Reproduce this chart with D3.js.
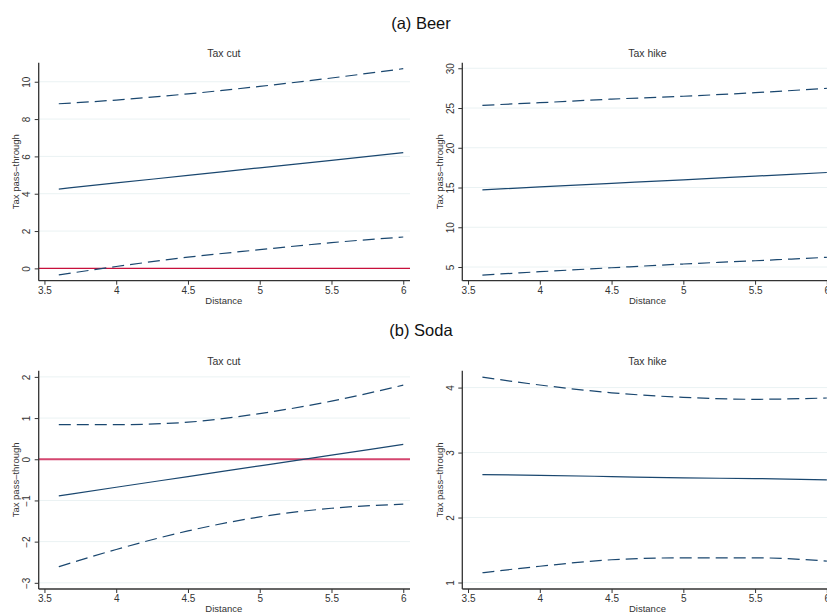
<!DOCTYPE html>
<html>
<head>
<meta charset="utf-8">
<script src="https://cdn.jsdelivr.net/npm/d3@7"></script>
<style>
  body { margin: 0; background: #fff; }
  text { font-family: "Liberation Sans", Arial, sans-serif; }
</style>
</head>
<body>
<div id="chart"></div>
<script>
// distance grid the margins were evaluated on
var distance = [3.6, 4, 4.5, 5, 5.5, 6];
var xTicks = [3.5, 4, 4.5, 5, 5.5, 6];

// (a) Beer
var beerCutUpper = [8.82, 9.02, 9.35, 9.75, 10.2, 10.7];
var beerCutMid   = [4.25, 4.58, 4.98, 5.39, 5.79, 6.2];
var beerCutLower = [-0.35, 0.1, 0.6, 1.0, 1.38, 1.68];
var beerCutTicks = [0, 2, 4, 6, 8, 10];

var beerHikeUpper = [25.34, 25.67, 26.12, 26.48, 26.93, 27.48];
var beerHikeMid   = [14.71, 15.07, 15.52, 15.97, 16.43, 16.89];
var beerHikeLower = [3.99, 4.41, 4.91, 5.38, 5.79, 6.22];
var beerHikeTicks = [5, 10, 15, 20, 25, 30];

// (b) Soda
var sodaCutUpper = [0.84, 0.84, 0.9, 1.11, 1.41, 1.8];
var sodaCutMid   = [-0.89, -0.68, -0.42, -0.16, 0.1, 0.36];
var sodaCutLower = [-2.61, -2.19, -1.74, -1.4, -1.19, -1.09];
var sodaCutTicks = [-3, -2, -1, 0, 1, 2];

var sodaHikeUpper = [4.16, 4.04, 3.92, 3.85, 3.82, 3.84];
var sodaHikeMid   = [2.66, 2.65, 2.63, 2.61, 2.6, 2.58];
var sodaHikeLower = [1.15, 1.25, 1.35, 1.38, 1.38, 1.33];
var sodaHikeTicks = [1, 2, 3, 4];

var navy = "#1a476f";

var svg = d3.select("#chart").append("svg")
  .attr("width", 827)
  .attr("height", 613);

// group titles
svg.append("text").attr("x", 421).attr("y", 29)
  .attr("text-anchor", "middle").style("font-size", "16.5px").attr("fill", "#111")
  .text("(a) Beer");
svg.append("text").attr("x", 421).attr("y", 336)
  .attr("text-anchor", "middle").style("font-size", "16.5px").attr("fill", "#111")
  .text("(b) Soda");

function drawPanel(opt) {
  var left = opt.left, top = opt.top, bottom = opt.bottom, right = left + 371.3;

  var x = d3.scaleLinear().domain([3.46, 6.047]).range([left, right]);
  var y = d3.scaleLinear().domain(opt.yDomain).range([bottom, top]);

  var g = svg.append("g");

  // gridlines
  g.selectAll(".grid")
    .data(opt.yTicks)
    .enter()
    .append("line")
    .attr("x1", left).attr("x2", right)
    .attr("y1", d => y(d)).attr("y2", d => y(d))
    .attr("stroke", "#eaf2f3")
    .attr("stroke-width", 1);

  // zero line
  if (opt.zero) {
    g.append("line")
      .attr("x1", left).attr("x2", right)
      .attr("y1", y(0)).attr("y2", y(0))
      .attr("stroke", opt.zeroColor)
      .attr("stroke-width", opt.zeroWidth);
  }

  var line = d3.line()
    .x((d, i) => x(distance[i]))
    .y(d => y(d))
    .curve(d3.curveMonotoneX);

  [opt.upper, opt.lower].forEach(function (s) {
    g.append("path").datum(s)
      .attr("d", line)
      .attr("fill", "none")
      .attr("stroke", navy)
      .attr("stroke-width", 1.2)
      .attr("stroke-dasharray", "12,6");
  });
  g.append("path").datum(opt.mid)
    .attr("d", line)
    .attr("fill", "none")
    .attr("stroke", navy)
    .attr("stroke-width", 1.2);

  // x axis
  var xAxis = g.append("g")
    .attr("transform", `translate(0, ${bottom})`)
    .call(d3.axisBottom(x).tickValues(xTicks).tickFormat(d3.format("")).tickSize(4).tickPadding(3));
  xAxis.select(".domain").remove();
  xAxis.selectAll("line").attr("stroke", "#333");
  xAxis.selectAll("text").style("font-size", "10px").attr("fill", "#333")
    .attr("dy", null).attr("y", 13);

  // y axis
  var yAxis = g.append("g")
    .attr("transform", `translate(${left}, 0)`)
    .call(d3.axisLeft(y).tickValues(opt.yTicks).tickSize(4)
      .tickFormat(d => d < 0 ? "\u2212" + Math.abs(d) : d));
  yAxis.select(".domain").remove();
  yAxis.selectAll("line").attr("stroke", "#333");
  yAxis.selectAll("text")
    .style("font-size", "10px").attr("fill", "#333")
    .attr("x", null).attr("dy", null)
    .attr("text-anchor", "middle")
    .attr("transform", "translate(-8.5,0) rotate(-90)");

  // axis lines
  g.append("line").attr("x1", left).attr("x2", right)
    .attr("y1", bottom).attr("y2", bottom)
    .attr("stroke", "#333").attr("stroke-width", 1.3);
  g.append("line").attr("x1", left).attr("x2", left)
    .attr("y1", top).attr("y2", bottom)
    .attr("stroke", "#333").attr("stroke-width", 1.3);

  // labels
  g.append("text")
    .attr("x", (x(3.5) + x(6)) / 2).attr("y", top - 5.5)
    .attr("text-anchor", "middle").style("font-size", "10.5px").attr("fill", "#333")
    .text(opt.title);
  g.append("text")
    .attr("x", (x(3.5) + x(6)) / 2).attr("y", bottom + 22.8)
    .attr("text-anchor", "middle").style("font-size", "9.5px").attr("fill", "#333")
    .text("Distance");
  g.append("text")
    .attr("transform", `translate(${left - 19.8}, ${(top + bottom) / 2}) rotate(-90)`)
    .attr("text-anchor", "middle").style("font-size", "9.5px").attr("fill", "#333")
    .text("Tax pass\u2013through");
}

drawPanel({ left: 38.7, top: 62.7, bottom: 280.7, yDomain: [-0.66, 11.02], yTicks: beerCutTicks,
  upper: beerCutUpper, mid: beerCutMid, lower: beerCutLower, title: "Tax cut",
  zero: true, zeroColor: "#c8103c", zeroWidth: 1.2 });
drawPanel({ left: 462.3, top: 62.7, bottom: 280.7, yDomain: [3.28, 30.7], yTicks: beerHikeTicks,
  upper: beerHikeUpper, mid: beerHikeMid, lower: beerHikeLower, title: "Tax hike" });
drawPanel({ left: 38.7, top: 370.7, bottom: 589, yDomain: [-3.15, 2.15], yTicks: sodaCutTicks,
  upper: sodaCutUpper, mid: sodaCutMid, lower: sodaCutLower, title: "Tax cut",
  zero: true, zeroColor: "#d4466f", zeroWidth: 1.8 });
drawPanel({ left: 462.3, top: 370.7, bottom: 589, yDomain: [0.9, 4.26], yTicks: sodaHikeTicks,
  upper: sodaHikeUpper, mid: sodaHikeMid, lower: sodaHikeLower, title: "Tax hike" });
</script>
</body>
</html>
